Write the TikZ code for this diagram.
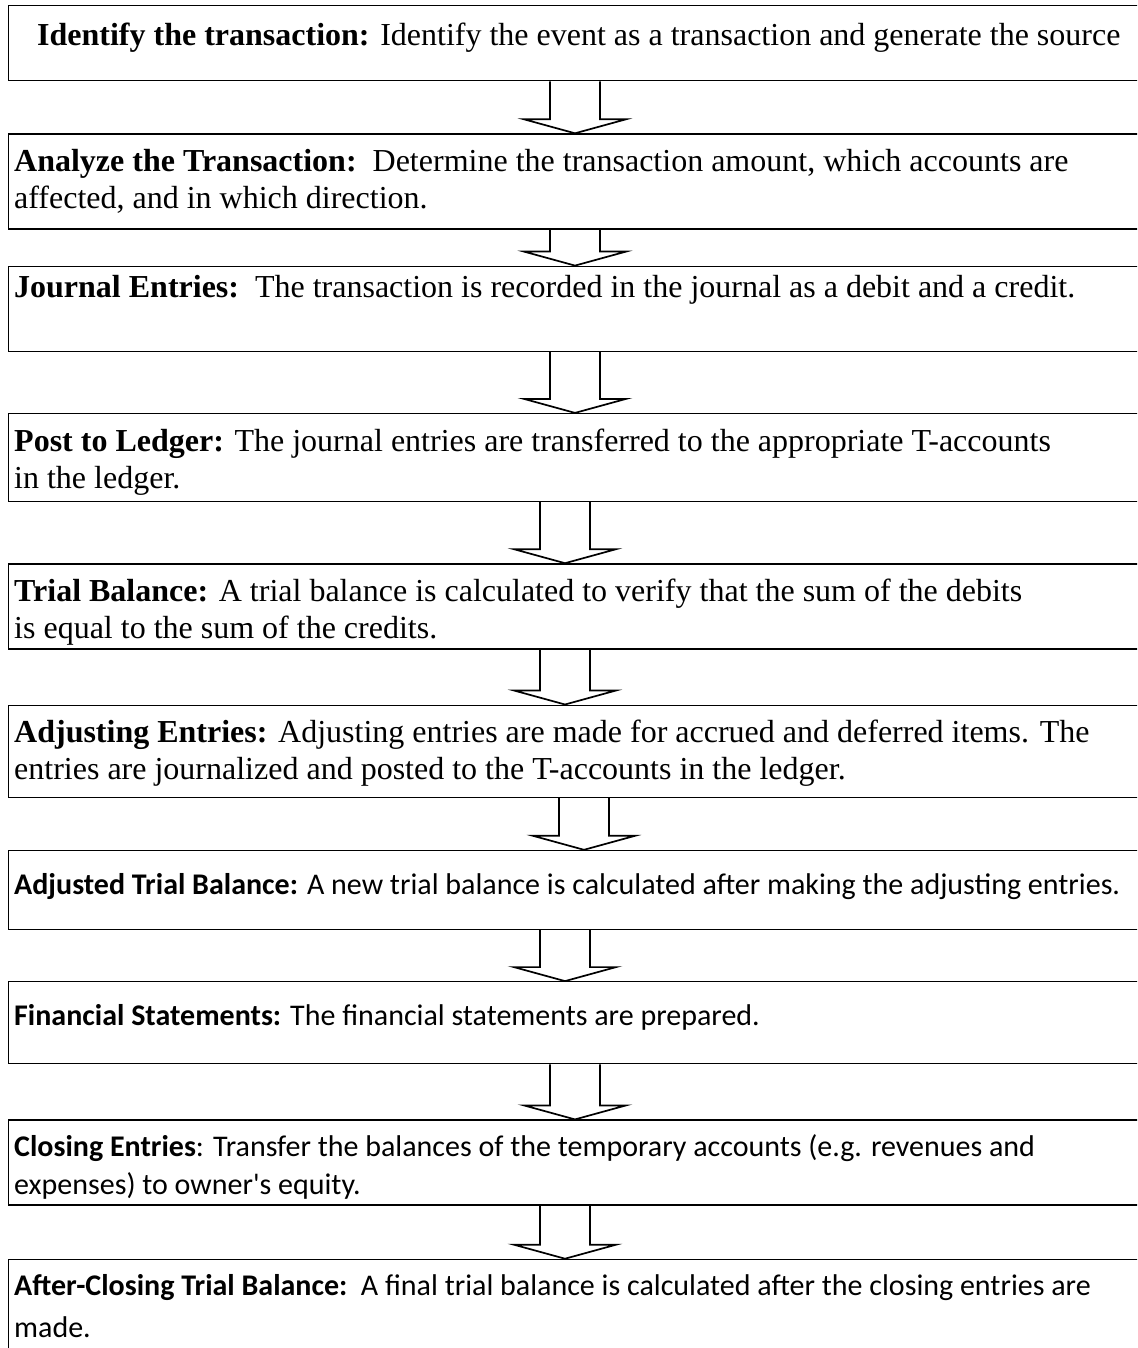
\documentclass[tikz,border=0pt]{standalone}
\usepackage{fontspec}
\setmainfont{Liberation Serif}
\newfontfamily\calibrifont{Carlito}
\usetikzlibrary{calc, positioning}

% one hollow block arrow from box #1 down to box #2, centred at x=#3
\newcommand{\flowarrow}[3]{%
  \draw[flow] let \p1=(#1.south), \p2=(#2.north) in
    ({#3-25},\y1) -- ({#3-25},{\y2+14pt}) -- ({#3-51},{\y2+14pt}) -- (#3,\y2)
    -- ({#3+51},{\y2+14pt}) -- ({#3+25},{\y2+14pt}) -- ({#3+25},\y1);}

\begin{document}
\begin{tikzpicture}[x=1pt, y=-1pt,
    box/.style={draw, line width=1.3pt, minimum width=1180pt, inner sep=0pt,
                anchor=north west},
    serif/.style={anchor=north west, inner sep=0pt, align=left,
                  font=\fontsize{32}{37}\selectfont},
    sans/.style={anchor=north west, inner sep=0pt, align=left,
                 font=\calibrifont\fontsize{30}{38}\selectfont},
    flow/.style={line width=1.7pt, line join=miter}
]
    \clip (0,0) rectangle (1137,1348);

    % the ten steps
    \node[box, minimum height=75pt] (ident) at (8,5) {};
    \node[box, minimum height=95pt, below right=52pt and 0pt of ident.south west] (analyze) {};
    \node[box, minimum height=85pt, below right=36pt and 0pt of analyze.south west] (journal) {};
    \node[box, minimum height=88pt, below right=61pt and 0pt of journal.south west] (post) {};
    \node[box, minimum height=85pt, below right=61pt and 0pt of post.south west] (trial) {};
    \node[box, minimum height=92pt, below right=55pt and 0pt of trial.south west] (adjust) {};
    \node[box, minimum height=79pt, below right=52pt and 0pt of adjust.south west] (adjtrial) {};
    \node[box, minimum height=82pt, below right=51pt and 0pt of adjtrial.south west] (finstat) {};
    \node[box, minimum height=85pt, below right=55pt and 0pt of finstat.south west] (closing) {};
    \node[box, minimum height=140pt, below right=53pt and 0pt of closing.south west] (afterclose) {};

    % texts (top of strut = baseline - 0.7 baselineskip)
    \node[serif] (identtxt) at ($(ident.north west)+(29,14)$)
        {\strut\textbf{Identify the transaction:} Identify the event as a transaction and generate the source};
    \node[serif] (analyzetxt) at ($(analyze.north west)+(6,12)$)
        {\strut\textbf{Analyze the Transaction:}\ \ Determine the transaction amount, which accounts are\\
         affected, and in which direction.};
    \node[serif] (journaltxt) at ($(journal.north west)+(6,6)$)
        {\strut\textbf{Journal Entries:}\ \ The transaction is recorded in the journal as a debit and a credit.};
    \node[serif] (posttxt) at ($(post.north west)+(6,12)$)
        {\strut\textbf{Post to Ledger:} The journal entries are transferred to the appropriate T-accounts\\
         in the ledger.};
    \node[serif] (trialtxt) at ($(trial.north west)+(6,12)$)
        {\strut\textbf{Trial Balance:} A trial balance is calculated to verify that the sum of the debits\\
         is equal to the sum of the credits.};
    \node[serif] (adjusttxt) at ($(adjust.north west)+(6,12)$)
        {\strut\textbf{Adjusting Entries:} Adjusting entries are made for accrued and deferred items. The\\
         entries are journalized and posted to the T-accounts in the ledger.};
    \node[sans] (adjtrialtxt) at ($(adjtrial.north west)+(6,18)$)
        {\strut\textbf{Adjusted Trial Balance:} A new trial balance is calculated after making the adjusting entries.};
    \node[sans] (finstattxt) at ($(finstat.north west)+(6,18)$)
        {\strut\textbf{Financial Statements:} The financial statements are prepared.};
    \node[sans] (closingtxt) at ($(closing.north west)+(6,10)$)
        {\strut\textbf{Closing Entries}: Transfer the balances of the temporary accounts (e.g. revenues and\\
         expenses) to owner's equity.};
    \node[sans] (afterclosetxt) at ($(afterclose.north west)+(6,10)$)
        {\strut\textbf{After-Closing Trial Balance:}\ \ A final trial balance is calculated after the closing entries are\\[4pt]
         made.};

    % arrows between the steps
    \flowarrow{ident}{analyze}{575}
    \flowarrow{analyze}{journal}{575}
    \flowarrow{journal}{post}{575}
    \flowarrow{post}{trial}{565}
    \flowarrow{trial}{adjust}{565}
    \flowarrow{adjust}{adjtrial}{584}
    \flowarrow{adjtrial}{finstat}{565}
    \flowarrow{finstat}{closing}{575}
    \flowarrow{closing}{afterclose}{565}
\end{tikzpicture}
\end{document}
